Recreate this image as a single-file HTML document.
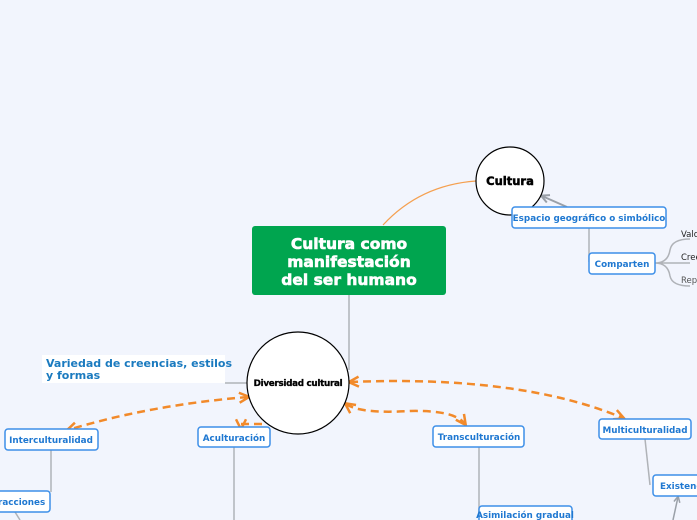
<!DOCTYPE html>
<html><head><meta charset="utf-8"><style>
html,body{margin:0;padding:0;background:#f2f5fd;}
svg{display:block;font-family:"DejaVu Sans","Liberation Sans",sans-serif;}
.b{fill:#fff;stroke:#3d8fe8;stroke-width:1.5;}
.t{fill:#1f78d1;font-weight:bold;font-size:8.8px;}
.g{stroke:#b0b3b8;stroke-width:1.5;fill:none;}
.o{stroke:#f28a2a;stroke-width:2.5;fill:none;stroke-dasharray:8 5;}
</style></head><body>
<svg width="697" height="520" viewBox="0 0 697 520">
<defs>
<marker id="a" viewBox="0 0 10 10" refX="8" refY="5" markerWidth="5" markerHeight="5" orient="auto-start-reverse"><path d="M1,1 L9,5 L1,9" fill="none" stroke="#f28a2a" stroke-width="2"/></marker>
<marker id="ga" viewBox="0 0 10 10" refX="8" refY="5" markerWidth="5" markerHeight="5" orient="auto"><path d="M1,1 L9,5 L1,9" fill="none" stroke="#9aa0a8" stroke-width="2"/></marker>
</defs>
<path d="M383,225 Q420,185 476,181" stroke="#f5a050" stroke-width="1.2" fill="none"/>
<line x1="349" y1="295" x2="349" y2="370" class="g"/>
<line x1="225" y1="383" x2="248" y2="383" class="g"/>
<path d="M567,207 L542,196" stroke="#9aa0a8" stroke-width="2" fill="none" marker-end="url(#ga)"/>
<line x1="589" y1="228" x2="589" y2="262" class="g"/>
<path d="M655,263 Q668,263 670,250 Q672,239 690,239 M655,263 L690,263 M655,263 Q668,263 670,276 Q672,286 690,286" class="g" stroke-width="1"/>
<line x1="51" y1="450" x2="51" y2="492" class="g"/>
<line x1="234" y1="447" x2="234" y2="520" class="g"/>
<line x1="479" y1="447" x2="479" y2="512" class="g"/>
<line x1="645" y1="439" x2="650" y2="485" class="g"/>
<line x1="15" y1="512" x2="20" y2="520" class="g"/>
<path d="M673,520 L678,497" stroke="#9aa0a8" stroke-width="1.5" fill="none" marker-end="url(#ga)"/>
<path d="M248,397 Q150,405 68,430" class="o" marker-start="url(#a)" marker-end="url(#a)"/>
<path d="M262,424 L241,424 L241,428" class="o" marker-end="url(#a)"/>
<path d="M346,404 Q360,414 410,411 Q455,410 465,424" class="o" marker-start="url(#a)" marker-end="url(#a)"/>
<path d="M350,382 Q520,375 623,418" class="o" marker-start="url(#a)" marker-end="url(#a)"/>
<rect x="252" y="226" width="194" height="69" rx="3" fill="#00a54f"/>
<g fill="#fff" font-weight="bold" font-size="15.5" text-anchor="middle" stroke="#fff" stroke-width="0.6">
<text x="349" y="249">Cultura como</text>
<text x="349" y="267">manifestación</text>
<text x="349" y="285">del ser humano</text>
</g>
<circle cx="510" cy="181" r="34" fill="#fff" stroke="#000" stroke-width="1.2"/>
<text x="510" y="185" text-anchor="middle" font-weight="bold" font-size="11.5" stroke="#000" stroke-width="0.5">Cultura</text>
<circle cx="298" cy="383" r="51" fill="#fff" stroke="#000" stroke-width="1.2"/>
<text x="298" y="386" text-anchor="middle" font-weight="bold" font-size="8.8" letter-spacing="-0.3" stroke="#000" stroke-width="0.3">Diversidad cultural</text>
<rect x="42" y="355" width="183" height="28" fill="#fff"/>
<text x="46" y="367" fill="#1a7abf" font-weight="bold" font-size="11">Variedad de creencias, estilos</text>
<text x="46" y="379" fill="#1a7abf" font-weight="bold" font-size="11">y formas</text>
<rect x="512" y="207" width="154" height="21" rx="3" class="b"/><text x="589" y="221" class="t" font-size="8.3" text-anchor="middle">Espacio geográfico o simbólico</text>
<rect x="589" y="253" width="66" height="21" rx="3" class="b"/><text x="622" y="267" class="t" font-size="8.5" text-anchor="middle">Comparten</text>
<text x="681" y="237" font-size="8.5" fill="#222">Valo</text>
<text x="681" y="260" font-size="8.5" fill="#222">Cree</text>
<text x="681" y="283" font-size="8.5" fill="#555">Rep</text>
<rect x="5" y="429" width="93" height="21" rx="3" class="b"/><text x="51" y="443" class="t" font-size="8.5" text-anchor="middle">Interculturalidad</text>
<rect x="198" y="427" width="72" height="20" rx="3" class="b"/><text x="234" y="441" class="t" text-anchor="middle">Aculturación</text>
<rect x="433" y="426" width="91" height="21" rx="3" class="b"/><text x="479" y="440" class="t" text-anchor="middle">Transculturación</text>
<rect x="599" y="419" width="92" height="20" rx="3" class="b"/><text x="645" y="433" class="t" font-size="8.5" text-anchor="middle">Multiculturalidad</text>
<rect x="653" y="475" width="60" height="21" rx="3" class="b"/><text x="660" y="489" class="t">Existenc</text>
<rect x="-20" y="491" width="70" height="21" rx="3" class="b"/><text x="-2" y="505" class="t">racciones</text>
<rect x="479" y="506" width="93" height="20" rx="3" class="b"/><text x="525" y="518" class="t" font-size="7" text-anchor="middle">Asimilación gradual</text>
</svg>
</body></html>
